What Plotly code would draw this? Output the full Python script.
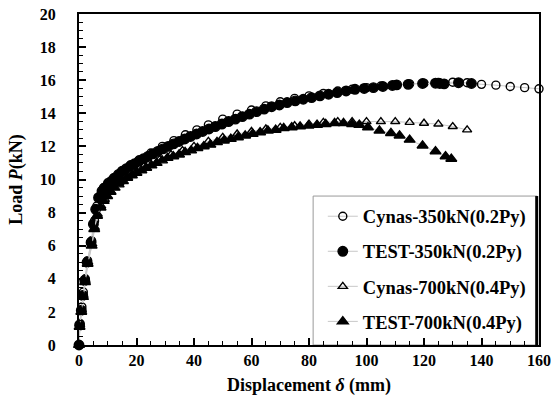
import plotly.graph_objects as go

# ---- data ----
cynas350_d = [0, 0.4, 1.0, 1.5, 2.2, 3.0, 4.4, 5.4, 6.2, 7.2, 8.5, 10, 12, 15, 18, 21, 25, 29, 33, 37,
              41, 45, 50, 55, 60, 65, 70, 75, 80, 85, 90, 95, 100, 105, 110, 115, 120, 125, 130, 135,
              140, 145, 150, 155, 160]
cynas350_p = [0, 1.3, 2.3, 3.2, 4.0, 5.1, 6.3, 7.5, 8.4, 9.0, 9.5, 9.8, 10.1, 10.5, 10.9, 11.2, 11.6, 12.0, 12.35, 12.7,
              13.0, 13.3, 13.65, 13.95, 14.2, 14.45, 14.7, 14.9, 15.05, 15.2, 15.35, 15.45, 15.55, 15.65, 15.72, 15.78, 15.82, 15.86, 15.88, 15.85,
              15.75, 15.7, 15.62, 15.55, 15.48]

test350_d = [0, 0.2, 0.8, 1.3, 2.0, 2.8, 4.2, 5.0, 5.8, 6.8, 8.0, 9.0, 10.2, 11.3, 12.5, 13.7, 15.0, 16.4, 17.8, 19.3,
             20.8, 22.4, 24.0, 25.7, 27.4, 29.2, 31.0, 32.9, 34.8, 36.8, 38.8, 40.9, 43.0, 45.2, 47.4, 49.7, 52.0, 54.4,
             56.8, 59.3, 61.8, 64.4, 67.0, 69.7, 72.4, 75.2, 78.0, 80.9, 83.8, 86.8, 89.8, 92.9, 96.0, 99.2, 102.4,
             105.7, 109.0, 110.5, 114.5, 119.5, 124.0, 125.5, 127.0, 132.0, 136.5]
test350_p = [0, 1.2, 2.1, 3.0, 3.9, 5.0, 6.2, 7.3, 8.2, 8.9, 9.3, 9.5, 9.7, 9.9, 10.1, 10.3, 10.5, 10.65, 10.8, 10.95,
             11.1, 11.25, 11.4, 11.55, 11.7, 11.85, 12.0, 12.15, 12.3, 12.45, 12.6, 12.75, 12.9, 13.05, 13.2, 13.35, 13.5, 13.65,
             13.8, 13.95, 14.1, 14.25, 14.4, 14.5, 14.65, 14.75, 14.85, 14.95, 15.05, 15.15, 15.25, 15.35, 15.45, 15.5, 15.55,
             15.62, 15.68, 15.72, 15.75, 15.8, 15.82, 15.8, 15.78, 15.85, 15.8]

cynas700_d = [0, 0.4, 1.0, 1.6, 2.3, 3.2, 4.6, 5.5, 6.5, 7.7, 9, 11, 14, 17, 20, 24, 28, 32, 36, 40,
              45, 50, 55, 60, 65, 70, 75, 80, 85, 90, 95, 100, 105, 110, 115, 120, 125, 130, 135]
cynas700_p = [0, 1.2, 2.1, 3.0, 3.9, 5.0, 6.1, 7.1, 7.9, 8.4, 8.8, 9.3, 9.8, 10.2, 10.5, 10.9, 11.2, 11.5, 11.75, 12.0,
              12.3, 12.55, 12.75, 12.9, 13.05, 13.15, 13.25, 13.35, 13.45, 13.5, 13.5, 13.5, 13.5, 13.5, 13.45, 13.4, 13.35, 13.2, 13.0]

test700_d = [0, 0.2, 0.8, 1.4, 2.1, 3.0, 4.4, 5.3, 6.3, 7.5, 8.6, 9.8, 11, 12.4, 13.8, 15.3, 16.8, 18.4, 20, 21.7,
             23.4, 25.2, 27, 28.9, 30.8, 32.8, 34.8, 36.9, 39, 41.2, 43.4, 45.7, 48, 50.4, 52.8, 55.3, 57.8, 60.4,
             63, 65.7, 68.4, 71.2, 74, 76.9, 79.8, 82.8, 85.8, 88.9, 92, 95, 97.5, 100.5, 104.5, 108.5, 111.5,
             115, 119.5, 124, 127.5, 129.5]
test700_p = [0, 1.1, 2.0, 2.9, 3.8, 4.9, 6.0, 7.0, 7.8, 8.3, 8.7, 9.0, 9.25, 9.5, 9.7, 9.9, 10.1, 10.25, 10.4, 10.55,
             10.7, 10.85, 11.0, 11.15, 11.3, 11.4, 11.5, 11.65, 11.75, 11.9, 12.0, 12.1, 12.25, 12.35, 12.45, 12.55, 12.65, 12.75,
             12.85, 12.95, 13.0, 13.1, 13.15, 13.2, 13.25, 13.3, 13.35, 13.4, 13.4, 13.35, 13.3, 13.15, 12.95, 12.8, 12.65,
             12.4, 12.05, 11.7, 11.4, 11.25]

series = [
    ("Cynas-350kN(0.2Py)", cynas350_d, cynas350_p, "circle-open", 8),
    ("TEST-350kN(0.2Py)", test350_d, test350_p, "circle", 9.5),
    ("Cynas-700kN(0.4Py)", cynas700_d, cynas700_p, "triangle-up-open", 8),
    ("TEST-700kN(0.4Py)", test700_d, test700_p, "triangle-up", 9.5),
]

FONT = "Liberation Serif"

fig = go.Figure()
for i, (name, xd, yd, sym, sz) in enumerate(series):
    fig.add_trace(go.Scatter(
        x=xd, y=yd, name=name, mode="lines+markers",
        line=dict(color="#c8c8c8", width=1),
        marker=dict(symbol=sym, size=sz, color="black", line=dict(color="black", width=1.4)),
        legendgroup=f"g{i}", cliponaxis=False,
    ))

# legend frame
fig.add_shape(type="rect", xref="paper", yref="paper", x0=0.509, x1=0.996, y0=0.0, y1=0.45,
              line=dict(color="#999999", width=1), fillcolor="white", layer="below")
fig.add_shape(type="line", xref="paper", yref="paper", x0=0.995, x1=0.995, y0=0.0, y1=0.45,
              line=dict(color="black", width=3))

fig.update_layout(
    width=551, height=417,
    margin=dict(l=79, r=12, t=14, b=72, autoexpand=False),
    paper_bgcolor="white", plot_bgcolor="white",
    font=dict(family=FONT, size=16, color="black", weight="bold"),
    showlegend=True,
    legend=dict(x=0.53, y=0.445, xanchor="left", yanchor="top",
                bgcolor="rgba(0,0,0,0)", borderwidth=0,
                font=dict(family=FONT, size=18.5, color="black", weight="bold"),
                tracegroupgap=8, itemwidth=30, traceorder="grouped"),
)
fig.update_xaxes(
    range=[0, 160], dtick=20, tick0=0, automargin=False,
    showline=True, linecolor="black", linewidth=2, mirror=True,
    ticks="inside", ticklen=7, tickwidth=1.5, tickcolor="black",
    minor=dict(dtick=5, ticks="inside", ticklen=4, tickwidth=1.2, tickcolor="black"),
    showgrid=False, zeroline=False,
    tickfont=dict(family=FONT, size=16, weight="bold"),
    ticklabelstandoff=0,
    title=dict(text="Displacement <i>δ</i> (mm)", font=dict(family=FONT, size=18, weight="bold"), standoff=10),
)
fig.update_yaxes(
    range=[0, 20], dtick=2, tick0=0, automargin=False,
    showline=True, linecolor="black", linewidth=2, mirror=True,
    ticks="inside", ticklen=7, tickwidth=1.5, tickcolor="black",
    minor=dict(dtick=0.5, ticks="inside", ticklen=4, tickwidth=1.2, tickcolor="black"),
    showgrid=False, zeroline=False,
    tickfont=dict(family=FONT, size=16, weight="bold"),
    ticklabelstandoff=18,
    title=dict(text="Load <i>P</i>(kN)", font=dict(family=FONT, size=18, weight="bold"), standoff=12),
)

fig.write_html("out.html")
